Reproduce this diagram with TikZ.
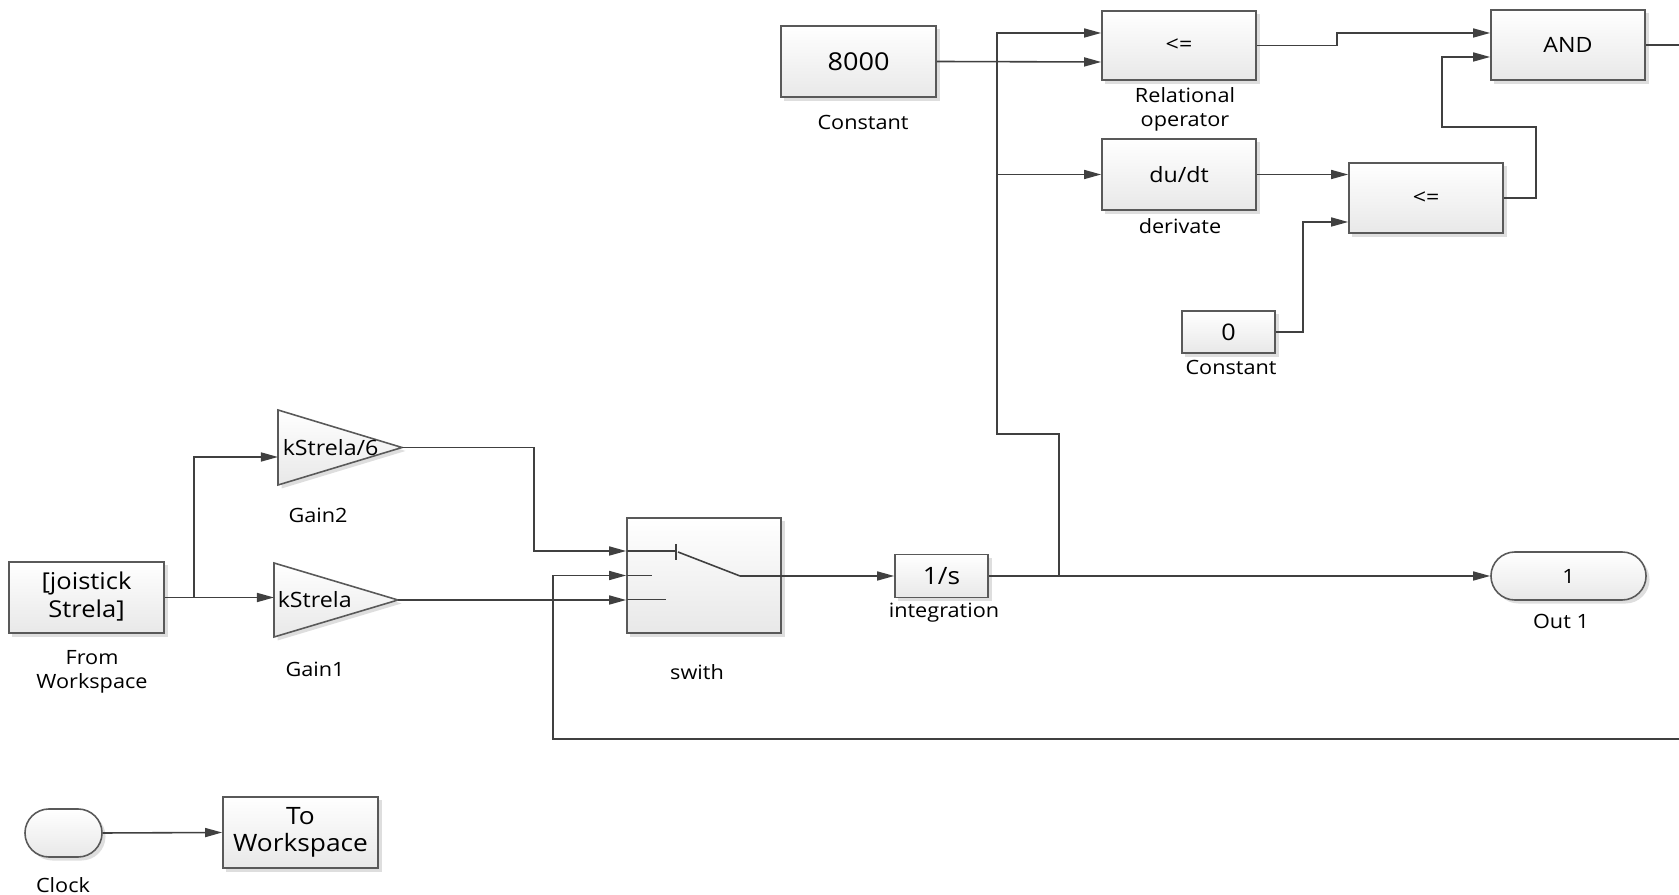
\documentclass[tikz,border=0pt]{standalone}
\usepackage{fontspec}
\setmainfont{Open Sans}[FakeStretch=1.1]
\usetikzlibrary{arrows.meta,shapes.misc,shadows,calc}
\newcommand\fsz[2]{\fontsize{#1}{#2}\selectfont}
\begin{document}
\begin{tikzpicture}[x=0.01cm,y=-0.01cm,line width=0.45pt,
  wire/.style={draw=black!75},
  arr/.style={wire,-{Triangle[length=1.7mm,width=0.9mm]}},
  shad/.style={drop shadow={shadow xshift=0.35mm,shadow yshift=-0.35mm,fill=black!13,opacity=1}},
  blk/.style={draw=black!65,top color=white,bottom color=black!9,shad,inner sep=0pt,align=center,font=\fsz{6}{8}},
  stad/.style={blk,rounded rectangle},
  lbl/.style={inner sep=0pt,align=center,font=\fsz{5.6}{6.8}},
  tri/.style={draw=black!65,top color=white,bottom color=black!9,shad},
]
\useasboundingbox (0,0) rectangle (1679,895);

% blocks
\node[blk,minimum width=1.55cm,minimum height=0.71cm,font=\fsz{7}{8}] (c8000) at (858.5,61.5) {8000};
\node[blk,minimum width=1.54cm,minimum height=0.69cm] (relop) at (1179,45.5) {<=};
\node[blk,minimum width=1.54cm,minimum height=0.71cm] (deriv) at (1179,174.5) {du/dt};
\node[blk,minimum width=1.54cm,minimum height=0.70cm] (and) at (1568,45) {AND};
\node[blk,minimum width=1.54cm,minimum height=0.70cm] (le2) at (1426,198) {<=};
\node[blk,minimum width=0.93cm,minimum height=0.42cm,font=\fsz{6.5}{8}] (c0) at (1228.5,332) {0};
\node[blk,minimum width=1.55cm,minimum height=0.71cm,font=\fsz{6.6}{8.5}] (fromws) at (86.5,597.5) {\raisebox{-0.6pt}{\begin{tabular}{@{}c@{}}[joistick\\[-0.3pt]Strela]\end{tabular}}};
\node[blk,minimum width=1.54cm,minimum height=1.15cm] (sw) at (704,575.5) {};
\node[blk,minimum width=0.93cm,minimum height=0.43cm,font=\fsz{6.8}{8}] (integ) at (941.5,576) {1/s};
\node[stad,minimum width=1.55cm,minimum height=0.48cm,font=\fsz{5.6}{7}] (out1) at (1568.5,576) {1};
\node[stad,minimum width=0.77cm,minimum height=0.48cm] (clock) at (63.5,833) {};
\node[blk,minimum width=1.55cm,minimum height=0.71cm,font=\fsz{6.8}{8}] (tows) at (300.5,832.5) {\raisebox{-0.5pt}{\begin{tabular}{@{}c@{}}To\\[-0.3pt]Workspace\end{tabular}}};

% gains
\draw[tri] (278,410) -- (402,447.5) -- (278,485) -- cycle;
\coordinate (g2in) at (278,457);
\coordinate (g2out) at (402,447.5);
\node[lbl,anchor=west,font=\fsz{6}{7}] (g2t) at (282,447.5) {kStrela/6};
\draw[tri] (274,563) -- (398,600) -- (274,637) -- cycle;
\coordinate (g1in) at (274,597.5);
\coordinate (g1out) at (398,600);
\node[lbl,anchor=west,font=\fsz{6}{7}] (g1t) at (277,600) {kStrela};

% switch internals
\draw[wire] (627,551) -- (677,551);
\draw[wire] (676,544) -- (676,560);
\draw[wire] (678,552) -- (740,576);
\draw[wire] (627,575.5) -- (652,575.5);
\draw[wire] (627,599.5) -- (666,599.5);
\coordinate (swout) at (740,576);

% labels
\node[lbl] (l1) at (863,122) {Constant};
\node[lbl] (l2) at (1185,109) {Relational\\operator};
\node[lbl] (l3) at (1180,226) {derivate};
\node[lbl] (l4) at (1231,367) {Constant};
\node[lbl] (l5) at (318,515) {Gain2};
\node[lbl] (l6) at (315,669) {Gain1};
\node[lbl] (l7) at (92,672) {From\\Workspace};
\node[lbl] (l8) at (697,672) {swith};
\node[lbl] (l9) at (944,613) {integration};
\node[lbl] (l10) at (1561,621) {Out 1};
\node[lbl] (l11) at (63,885) {Clock};

% free ends
\coordinate (andR) at (1679,45);
\coordinate (fbR) at (1679,739);

% connectors
\draw[arr] (c8000.east) -- ($(relop.west)+(0,16.5)$);
\draw[arr] (integ.east) -- (out1.west);
\draw[arr] (1059,576) -- (1059,434) -- (997,434) -- (997,33) -- ($(relop.west)+(0,-12.5)$);
\draw[arr] (997,174.5) -- (deriv.west);
\draw[arr] (relop.east) -- (1337,45.5) -- (1337,33) -- ($(and.west)+(0,-12)$);
\draw[arr] (deriv.east) -- ($(le2.west)+(0,-23.5)$);
\draw[arr] (c0.east) -- (1303,332) -- (1303,222) -- ($(le2.west)+(0,24)$);
\draw[arr] (le2.east) -- (1536,198) -- (1536,127) -- (1442,127) -- (1442,57) -- ($(and.west)+(0,12)$);
\draw[wire] (and.east) -- (andR);
\draw[arr] (fromws.east) -- (g1in);
\draw[arr] (194,597.5) -- (194,457) -- (g2in);
\draw[arr] (g2out) -- (534,447.5) -- (534,551) -- ($(sw.west)+(0,-24.5)$);
\draw[arr] (g1out) -- ($(sw.west)+(0,24.5)$);
\draw[arr] (fbR) -- (553,739) -- (553,575.5) -- (sw.west);
\draw[arr] (swout) -- (integ.west);
\draw[arr] (clock.east) -- (tows.west);
\end{tikzpicture}
\end{document}
